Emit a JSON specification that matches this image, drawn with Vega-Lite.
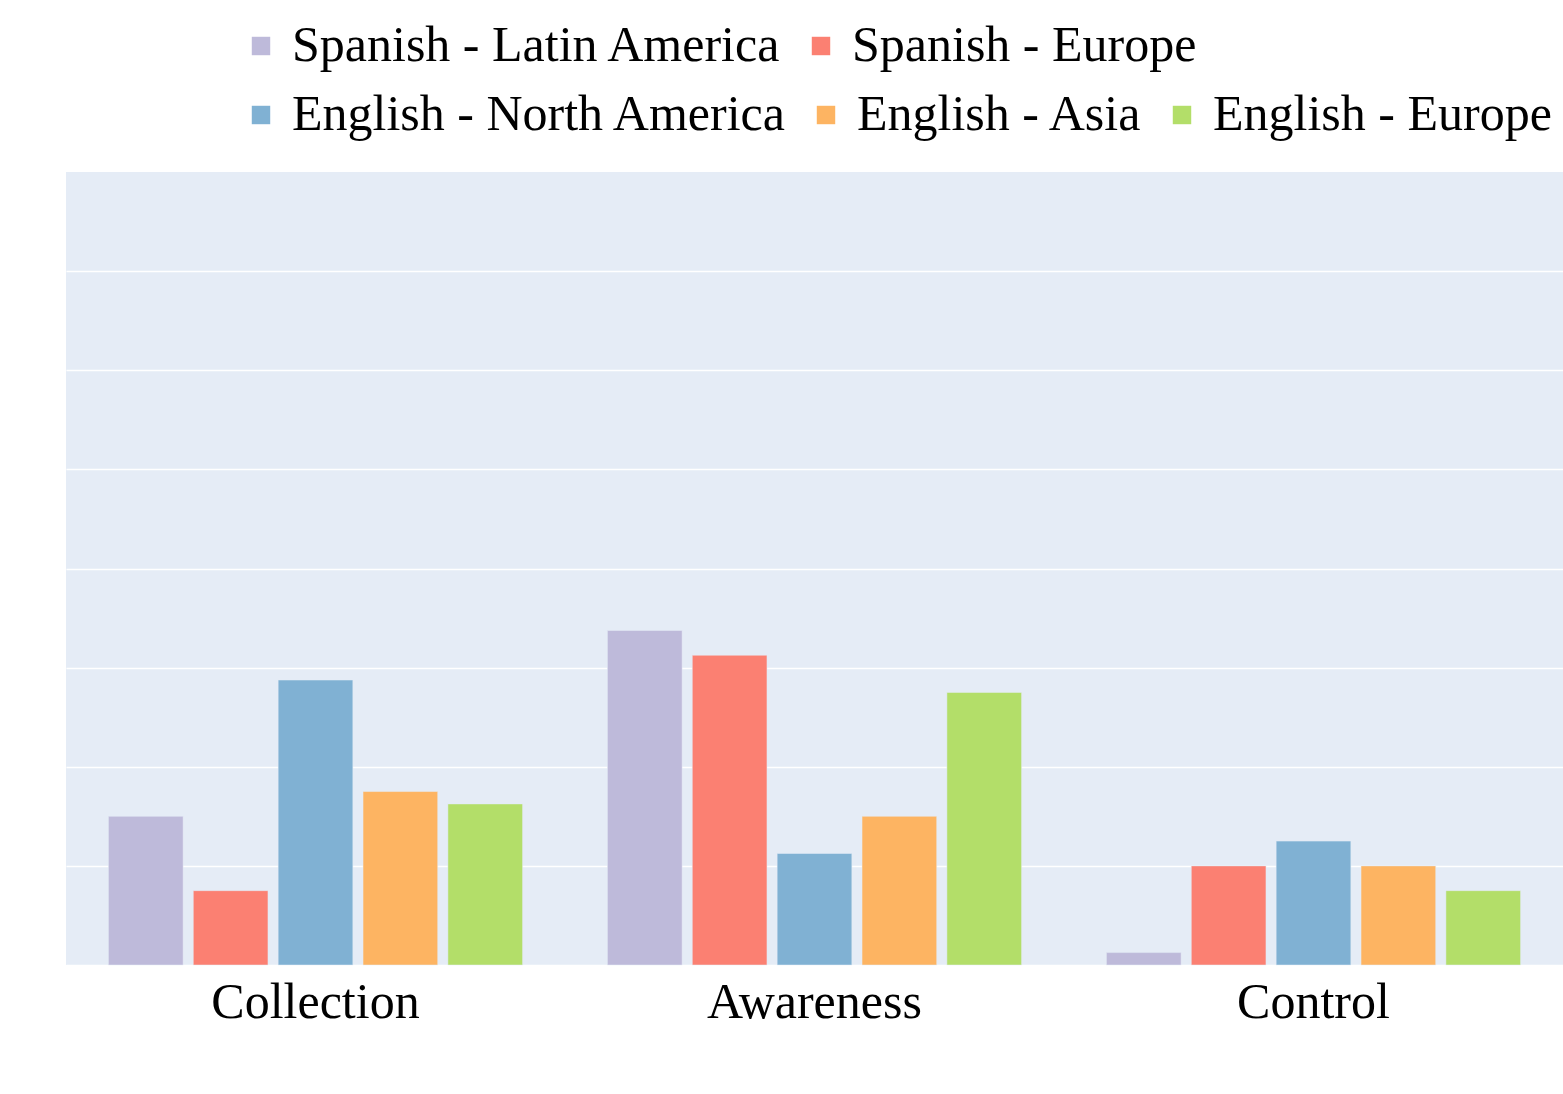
{
  "$schema": "https://vega.github.io/schema/vega-lite/v6.json",
  "description": "Grouped bars by category and language-region.",
  "width": 1497,
  "height": 793,
  "autosize": {"type": "none"},
  "padding": {"left": 66, "top": 172, "right": 0, "bottom": 129},
  "background": "white",
  "config": {
    "view": {"fill": "#e5ecf6", "stroke": null},
    "font": "Liberation Serif",
    "legend": {"padding": 0}
  },
  "data": {
    "values": [
      {"category": "Collection", "series": "Spanish - Latin America", "value": 12},
      {"category": "Collection", "series": "Spanish - Europe", "value": 6},
      {"category": "Collection", "series": "English - North America", "value": 23},
      {"category": "Collection", "series": "English - Asia", "value": 14},
      {"category": "Collection", "series": "English - Europe", "value": 13},
      {"category": "Awareness", "series": "Spanish - Latin America", "value": 27},
      {"category": "Awareness", "series": "Spanish - Europe", "value": 25},
      {"category": "Awareness", "series": "English - North America", "value": 9},
      {"category": "Awareness", "series": "English - Asia", "value": 12},
      {"category": "Awareness", "series": "English - Europe", "value": 22},
      {"category": "Control", "series": "Spanish - Latin America", "value": 1},
      {"category": "Control", "series": "Spanish - Europe", "value": 8},
      {"category": "Control", "series": "English - North America", "value": 10},
      {"category": "Control", "series": "English - Asia", "value": 8},
      {"category": "Control", "series": "English - Europe", "value": 6}
    ]
  },
  "encoding": {
    "x": {
      "field": "category",
      "type": "nominal",
      "scale": {"domain": ["Collection", "Awareness", "Control"], "paddingInner": 0.17, "paddingOuter": 0.085},
      "axis": {
        "title": null,
        "labelAngle": 0,
        "labelFontSize": 50,
        "labelColor": "black",
        "labelPadding": 12,
        "labelLimit": 1000,
        "ticks": false,
        "domain": false,
        "grid": false
      }
    },
    "xOffset": {
      "field": "series",
      "type": "nominal",
      "scale": {
        "domain": ["Spanish - Latin America", "Spanish - Europe", "English - North America", "English - Asia", "English - Europe"],
        "paddingInner": 0.12,
        "paddingOuter": 0
      }
    },
    "y": {
      "field": "value",
      "type": "quantitative",
      "scale": {"domain": [0, 64], "nice": false},
      "axis": {
        "title": null,
        "labels": false,
        "ticks": false,
        "domain": false,
        "values": [0, 8, 16, 24, 32, 40, 48, 56],
        "gridColor": "white",
        "gridWidth": 1.5
      }
    }
  },
  "layer": [
    {
      "transform": [{"filter": "indexof(datum.series, 'Spanish') === 0"}],
      "mark": {"type": "bar", "stroke": "#e5ecf6", "strokeWidth": 0.5},
      "encoding": {
        "color": {
          "field": "series",
          "type": "nominal",
          "scale": {"domain": ["Spanish - Latin America", "Spanish - Europe"], "range": ["#bebada", "#fb8072"]},
          "legend": {
            "title": null,
            "orient": "none",
            "direction": "horizontal",
            "legendX": 170,
            "legendY": -151,
            "gridAlign": "none",
            "symbolType": "square",
            "symbolSize": 340,
            "symbolStrokeWidth": 0,
            "labelFontSize": 50,
            "labelColor": "black",
            "labelOffset": 6,
            "columnPadding": 13,
            "labelLimit": 1000
          }
        }
      }
    },
    {
      "transform": [{"filter": "indexof(datum.series, 'English') === 0"}],
      "mark": {"type": "bar", "stroke": "#e5ecf6", "strokeWidth": 0.5},
      "encoding": {
        "color": {
          "field": "series",
          "type": "nominal",
          "scale": {"domain": ["English - North America", "English - Asia", "English - Europe"], "range": ["#80b1d3", "#fdb462", "#b3de69"]},
          "legend": {
            "title": null,
            "orient": "none",
            "direction": "horizontal",
            "legendX": 170,
            "legendY": -82,
            "gridAlign": "none",
            "symbolType": "square",
            "symbolSize": 340,
            "symbolStrokeWidth": 0,
            "labelFontSize": 50,
            "labelColor": "black",
            "labelOffset": 6,
            "columnPadding": 13,
            "labelLimit": 1000
          }
        }
      }
    }
  ],
  "resolve": {"scale": {"color": "independent"}}
}
